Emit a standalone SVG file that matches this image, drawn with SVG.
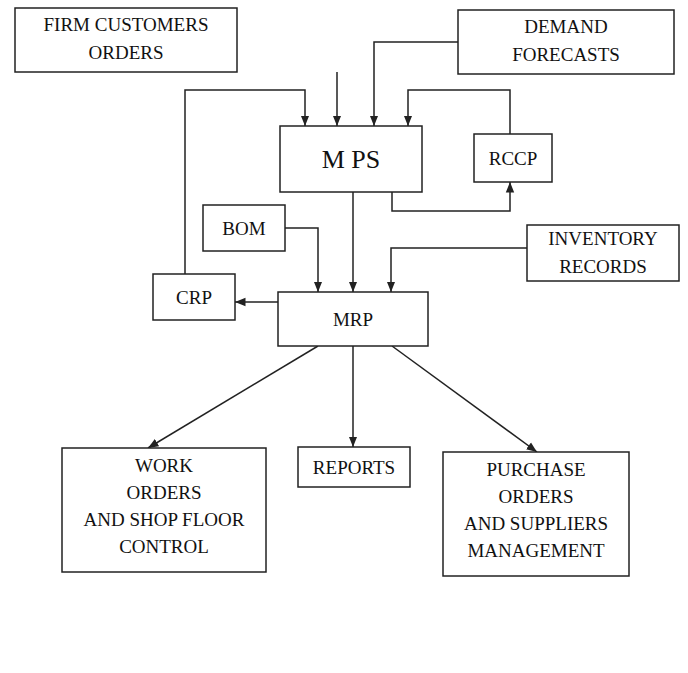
<svg xmlns="http://www.w3.org/2000/svg" width="688" height="673" viewBox="0 0 688 673">
<defs><marker id="a" viewBox="0 0 10 10" refX="10" refY="5" markerWidth="7" markerHeight="7" orient="auto"><path d="M0,1 L10,5 L0,9 z" fill="#222"/></marker></defs>
<style>
rect{fill:#fff;stroke:#222;stroke-width:1.5}
text{font-family:"Liberation Serif",serif;font-size:19px;fill:#111;text-anchor:middle}
.c{fill:none;stroke:#222;stroke-width:1.5;marker-end:url(#a)}
</style>
<rect width="688" height="673" style="stroke:none"/>
<g id="connectors">
<path class="c" d="M337,72 V126"/>
<path class="c" d="M458,42 H374 V126"/>
<path class="c" d="M185,274 V90 H305 V126"/>
<path class="c" d="M510,134 V90 H408 V126"/>
<path class="c" d="M392,192 V211 H510 V182"/>
<path class="c" d="M353,192 V292"/>
<path class="c" d="M285,228 H318 V292"/>
<path class="c" d="M527,248 H391 V292"/>
<path class="c" d="M278,302 H235"/>
<path class="c" d="M318,346 L148,448"/>
<path class="c" d="M353,346 V447"/>
<path class="c" d="M392,346 L537,452"/>
</g>
<g id="fco"><rect x="15" y="8" width="222" height="64"/><text x="126" y="31">FIRM CUSTOMERS</text><text x="126" y="59">ORDERS</text></g>
<g id="df"><rect x="458" y="10" width="216" height="64"/><text x="566" y="33">DEMAND</text><text x="566" y="61">FORECASTS</text></g>
<g id="mps"><rect x="280" y="126" width="142" height="66"/><text x="351" y="168" style="font-size:26px">M PS</text></g>
<g id="rccp"><rect x="474" y="134" width="78" height="48"/><text x="513" y="165">RCCP</text></g>
<g id="bom"><rect x="203" y="205" width="82" height="46"/><text x="244" y="235">BOM</text></g>
<g id="inv"><rect x="527" y="225" width="152" height="56"/><text x="603" y="245">INVENTORY</text><text x="603" y="273">RECORDS</text></g>
<g id="crp"><rect x="153" y="274" width="82" height="46"/><text x="194" y="304">CRP</text></g>
<g id="mrp"><rect x="278" y="292" width="150" height="54"/><text x="353" y="326">MRP</text></g>
<g id="work"><rect x="62" y="448" width="204" height="124"/><text x="164" y="472">WORK</text><text x="164" y="499">ORDERS</text><text x="164" y="526">AND SHOP FLOOR</text><text x="164" y="553">CONTROL</text></g>
<g id="reports"><rect x="298" y="447" width="112" height="40"/><text x="354" y="474">REPORTS</text></g>
<g id="purchase"><rect x="443" y="452" width="186" height="124"/><text x="536" y="476">PURCHASE</text><text x="536" y="503">ORDERS</text><text x="536" y="530">AND SUPPLIERS</text><text x="536" y="557">MANAGEMENT</text></g>
</svg>
